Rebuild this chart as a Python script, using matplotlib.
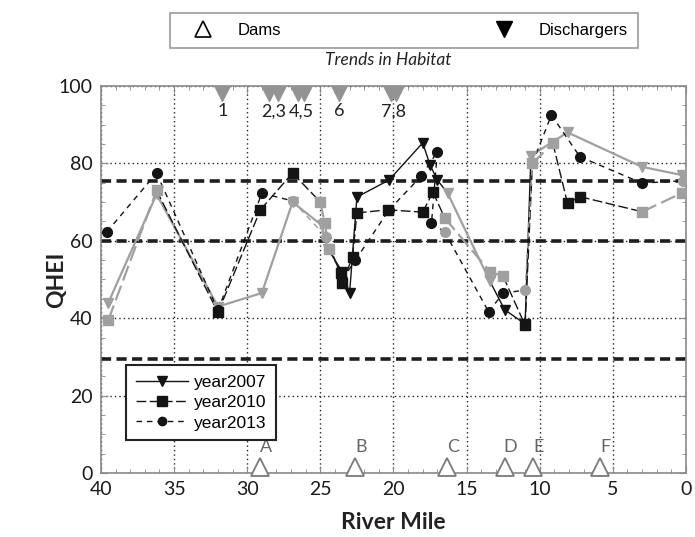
import matplotlib
matplotlib.use("Agg")
import matplotlib.pyplot as plt
from matplotlib.lines import Line2D
from matplotlib.ticker import MultipleLocator

# ---- data ----
mile_2007 = [39.5, 36.2, 32.0, 29.0, 26.9, 24.9, 24.5, 23.5, 23.0, 22.5, 20.3, 18.0, 17.5,
             17.0, 16.3, 13.4, 12.4, 11.0, 10.6, 8.1, 3.0, 0.3]
qhei_2007 = [44, 72, 43, 46.5, 70, 64, 58, 52, 46.5, 71.3, 75.7, 85.3, 79.6,
             75.7, 72.3, 49.5, 42.2, 38.5, 82, 88, 79.1, 77]

mile_2010 = [39.5, 36.2, 32.0, 29.1, 26.9, 25.0, 24.7, 24.4, 23.6, 23.5, 22.8, 22.5, 20.4,
             18.0, 17.3, 16.5, 13.4, 12.5, 11.0, 10.5, 9.1, 8.1, 7.25, 3.0, 0.3]
qhei_2010 = [39.5, 73, 41.5, 68, 77.5, 70, 64.5, 58, 51.7, 49, 55.8, 67.2, 68,
             67.4, 72.6, 65.9, 52, 50.8, 38.2, 80, 85.2, 69.7, 71.4, 67.5, 72.3]

mile_2013 = [39.6, 36.2, 32.0, 29.0, 26.9, 24.6, 23.5, 22.6, 20.3, 18.1, 17.0, 17.4, 16.5,
             13.5, 12.5, 11.0, 10.5, 9.2, 7.25, 3.0, 0.2]
qhei_2013 = [62.3, 77.5, 42, 72.3, 70.3, 61, 50, 55, 68, 76.7, 83, 64.6, 62.3,
             41.7, 46.4, 47.3, 80, 92.5, 81.7, 74.9, 75.5]

criteria_levels = [75.5, 60, 29.5]

discharger_miles = [31.7, 28.5, 27.9, 26.5, 26.1, 23.7, 20.2, 19.8]
discharger_labels = ["1", "2,3", "4,5", "6", "7,8"]
discharger_label_miles = [31.7, 28.2, 26.3, 23.7, 20.0]

dam_miles = [29.1, 22.6, 16.35, 12.4, 10.45, 5.9]
dam_labels = ["A", "B", "C", "D", "E", "F"]

# faded (scanned grey) parts of each series -- style only
fade_2007 = [1, 1, 1, 1, 1, 1, 1, 0, 0, 0, 0, 0, 0, 0, 1, 1, 0, 0, 1, 1, 1, 1]
fade_2010 = [1, 1, 0, 0, 0, 1, 1, 1, 0, 0, 0, 0, 0, 0, 0, 1, 1, 1, 0, 1, 1, 0, 0, 1, 1]
fade_2013 = [0, 0, 0, 0, 1, 1, 0, 0, 0, 0, 0, 0, 1, 0, 0, 1, 1, 0, 0, 0, 1]

BLACK = "#141414"
GRAY = "#a0a0a0"
SANS = ["Liberation Sans", "DejaVu Sans"]
LABEL = ["Lato", "DejaVu Sans"]


def draw_series(ax, x, y, fade, marker, ls, ms, lw_gray=1.6):
    """折线按段着色，灰色段表示原图褪色部分"""
    for i in range(len(x) - 1):
        gray = fade[i] and fade[i + 1]
        ax.plot(x[i:i + 2], y[i:i + 2], color=GRAY if gray else BLACK, ls=ls,
                lw=lw_gray if gray else 1.0, zorder=3)
    for xi, yi, f in zip(x, y, fade):
        c = GRAY if f else BLACK
        ax.plot(xi, yi, marker=marker, ms=ms, color=c, mec=c, ls="none", zorder=4)


fig = plt.figure(figsize=(6.95, 5.37), dpi=100)
ax = fig.add_axes([0.1453, 0.1192, 0.8417, 0.7207])

ax.set_xlim(40, 0)
ax.set_ylim(0, 100)

# grid + criteria lines
ax.grid(True, which="major", color="#222222", ls=(0, (1, 2.2)), lw=1.0)
for lvl in criteria_levels:
    ax.axhline(lvl, color="#1e1e1e", lw=2.6, ls=(0, (2.8, 1.5)), zorder=2)

draw_series(ax, mile_2007, qhei_2007, fade_2007, "v", "-", 7)
draw_series(ax, mile_2010, qhei_2010, fade_2010, "s", (0, (7, 2.5)), 7)
draw_series(ax, mile_2013, qhei_2013, fade_2013, "o", (0, (4, 3.5)), 7, lw_gray=1.0)

# dischargers along the top
ax.plot(discharger_miles, [98.3] * len(discharger_miles), ls="none", marker="v",
        ms=12, color="#939393", zorder=5)
for m, lab in zip(discharger_label_miles, discharger_labels):
    ax.text(m, 93.5, lab, ha="center", va="center", fontsize=13,
            family=LABEL, color="#222222")

# dams along the bottom
ax.plot(dam_miles, [1.6] * len(dam_miles), ls="none", marker="^", ms=13,
        mfc="white", mec="#7a7a7a", mew=1.3, clip_on=False, zorder=5)
for m, lab in zip(dam_miles, dam_labels):
    ax.text(m - 0.4, 6.8, lab, ha="center", va="center", fontsize=13,
            family=LABEL, color="#666666")

# ticks / spines
ax.xaxis.set_major_locator(MultipleLocator(5))
ax.xaxis.set_minor_locator(MultipleLocator(1))
ax.yaxis.set_major_locator(MultipleLocator(20))
ax.yaxis.set_minor_locator(MultipleLocator(5))
ax.tick_params(which="both", direction="in", top=True, right=True, color="#8a8a8a")
ax.tick_params(which="major", length=5, labelsize=14, pad=6, labelcolor="#1a1a1a")
ax.tick_params(which="minor", length=3)
for lab in ax.get_xticklabels() + ax.get_yticklabels():
    lab.set_family(LABEL)
for sp in ax.spines.values():
    sp.set_color("#8a8a8a")
    sp.set_linewidth(1.2)

ax.set_xlabel("River Mile", fontsize=16.5, fontweight="bold", family=LABEL,
              color="#222222", va="center")
ax.set_ylabel("QHEI", fontsize=16.5, fontweight="bold", family=LABEL,
              color="#222222", va="center", ha="center")
ax.xaxis.set_label_coords(0.5, -0.127)
ax.yaxis.set_label_coords(-0.075, 0.5)

# series legend
handles = [
    Line2D([], [], color=BLACK, lw=1.0, ls="-", marker="v", ms=7),
    Line2D([], [], color=BLACK, lw=1.0, ls=(0, (7, 2.5)), marker="s", ms=7),
    Line2D([], [], color=BLACK, lw=1.0, ls=(0, (4, 3.5)), marker="o", ms=6),
]
leg = ax.legend(handles, ["year2007", "year2010", "year2013"], loc="lower left",
                bbox_to_anchor=(0.043, 0.085), prop={"family": SANS, "size": 12.5},
                handlelength=3.0, handletextpad=0.35, labelspacing=0.3,
                borderpad=0.55, borderaxespad=0, fancybox=False, framealpha=1,
                edgecolor="#222222")
leg.get_frame().set_linewidth(1.5)

# dams / dischargers key above the plot
key_handles = [
    Line2D([], [], ls="none", marker="^", ms=11, mfc="white", mec="black", mew=1.2),
    Line2D([], [], ls="none", marker="v", ms=11, color="black"),
]
key = fig.legend(key_handles, ["Dams", "Dischargers"], loc="center",
                 bbox_to_anchor=(0.2446, 0.9106, 0.6734, 0.0652), mode="expand",
                 ncol=2, prop={"family": SANS, "size": 12}, handlelength=2.75,
                 handletextpad=0.7, borderpad=0.6, borderaxespad=0,
                 fancybox=False, framealpha=1, edgecolor="#9a9a9a")
key.get_frame().set_linewidth(1.2)

fig.text(0.558, 0.888, "Trends in Habitat", ha="center", va="center",
         fontsize=12.5, style="italic", family=LABEL, color="#222222")

fig.savefig("out.png", dpi=100)
